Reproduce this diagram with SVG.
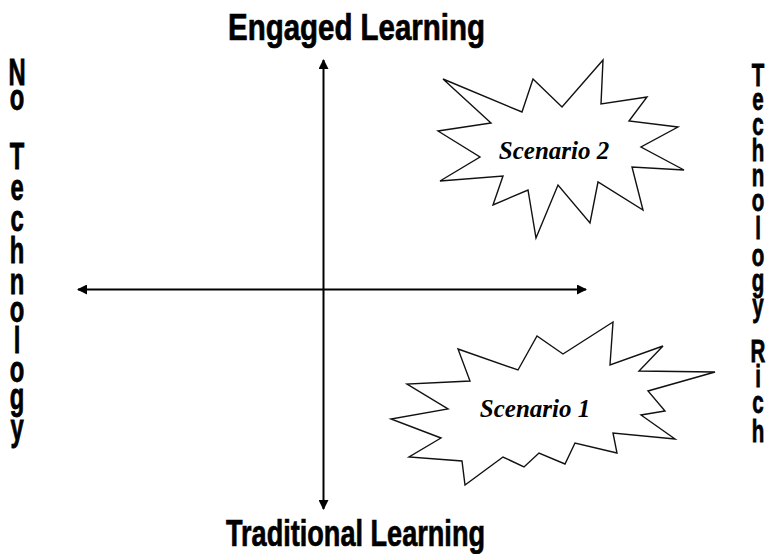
<svg xmlns="http://www.w3.org/2000/svg" width="767" height="554" viewBox="0 0 767 554">
<style>
.title{font-family:"Liberation Sans",Arial,sans-serif;font-weight:bold;fill:#000;stroke:#000;stroke-width:0.7}
.vert{font-family:"Liberation Sans",Arial,sans-serif;font-weight:bold;fill:#000;stroke:#000;stroke-width:0.8;text-anchor:middle}
.star{fill:#fff;stroke:#111;stroke-width:1.4;stroke-linejoin:miter}
.scen{font-family:"Liberation Serif","Times New Roman",serif;font-weight:bold;font-style:italic;font-size:25px;fill:#000;text-anchor:middle}
.axis{stroke:#000;stroke-width:2;fill:none}
</style>
<defs>
<marker id="ah" viewBox="0 0 10 10" refX="9" refY="5" markerWidth="5" markerHeight="5" orient="auto" markerUnits="strokeWidth">
<path d="M0,0 L10,5 L0,10 z" fill="#000"/>
</marker>
</defs>
<rect width="767" height="554" fill="#fff"/>
<g id="connectors">
<line class="axis" x1="323.5" y1="289.5" x2="323.5" y2="60" marker-end="url(#ah)"/>
<line class="axis" x1="323.5" y1="289.5" x2="323.5" y2="509" marker-end="url(#ah)"/>
<line class="axis" x1="323.5" y1="289.5" x2="78" y2="289.5" marker-end="url(#ah)"/>
<line class="axis" x1="323.5" y1="289.5" x2="586" y2="289.5" marker-end="url(#ah)"/>
</g>
<g id="engaged">
<text class="title" x="228" y="40" font-size="36" textLength="257" lengthAdjust="spacingAndGlyphs">Engaged Learning</text>
</g>
<g id="traditional">
<text class="title" x="226" y="546" font-size="37" textLength="259" lengthAdjust="spacingAndGlyphs">Traditional Learning</text>
</g>
<g id="no-technology" transform="translate(17,0) scale(0.66,1)">
<text class="vert" font-size="36"><tspan x="0" y="85">N</tspan><tspan x="0" y="110">o</tspan><tspan x="0" y="169">T</tspan><tspan x="0" y="200">e</tspan><tspan x="0" y="231">c</tspan><tspan x="0" y="263">h</tspan><tspan x="0" y="294">n</tspan><tspan x="0" y="322">o</tspan><tspan x="0" y="353">l</tspan><tspan x="0" y="382">o</tspan><tspan x="0" y="409">g</tspan><tspan x="0" y="440">y</tspan></text>
</g>
<g id="technology-rich" transform="translate(758,0) scale(0.64,1)">
<text class="vert" font-size="32"><tspan x="0" y="86">T</tspan><tspan x="0" y="110">e</tspan><tspan x="0" y="135">c</tspan><tspan x="0" y="161">h</tspan><tspan x="0" y="186">n</tspan><tspan x="0" y="211">o</tspan><tspan x="0" y="239">l</tspan><tspan x="0" y="266">o</tspan><tspan x="0" y="291">g</tspan><tspan x="0" y="316">y</tspan><tspan x="0" y="362">R</tspan><tspan x="0" y="387">i</tspan><tspan x="0" y="413">c</tspan><tspan x="0" y="442">h</tspan></text>
</g>
<g id="scenario2">
<polygon class="star" points="443,79 522,112 533,79 562,107 603,60 601,104 647,97 629,121 678,127 641,147 684,170 632,167 643,210 598,182 590,223 558,185 536,238 528,190 493,205 503,176 440,181 480,157 438,131 491,123"/>
<text class="scen" x="554" y="159">Scenario 2</text>
</g>
<g id="scenario1">
<polygon class="star" points="458,349 518,370 537,336 563,354 613,322 610,365 663,346 639,371 715,372 648,391 665,411 641,415 675,439 613,433 617,453 575,443 565,464 539,453 524,467 503,457 465,485 462,461 409,457 441,438 391,419 448,409 407,384 470,381"/>
<text class="scen" x="535" y="417">Scenario 1</text>
</g>
</svg>
